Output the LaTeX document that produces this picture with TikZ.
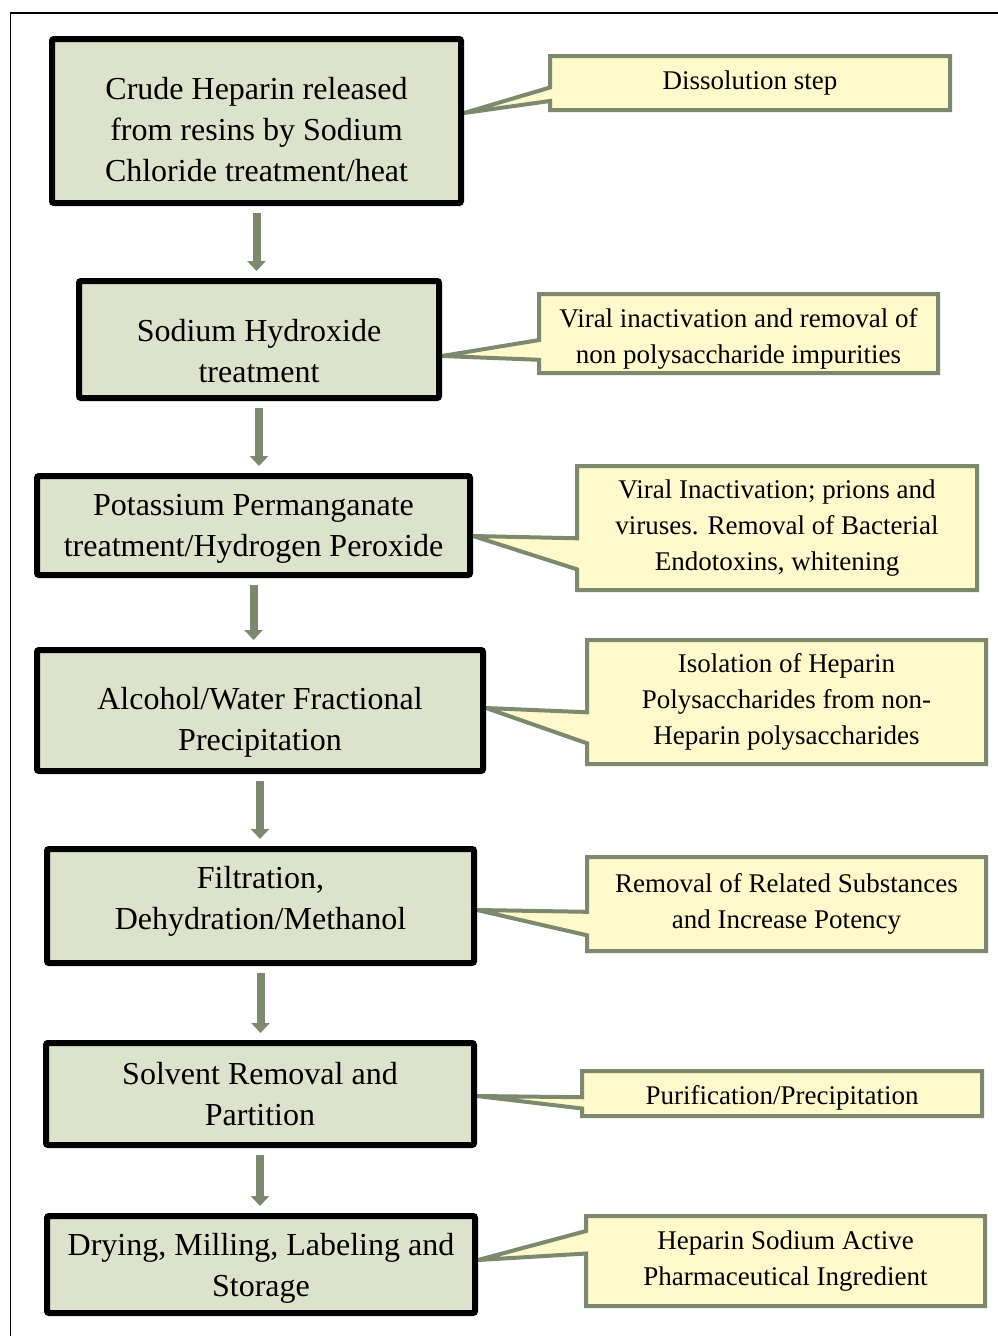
\documentclass[tikz,border=0pt]{standalone}
\usepackage{fontspec}
\setmainfont{Liberation Serif}
\usetikzlibrary{
    arrows.meta,
    backgrounds,
    calc
}
\definecolor{stagefill}{RGB}{221,226,202}
\definecolor{notefill}{RGB}{255,249,204}
\definecolor{noteline}{RGB}{125,137,109}
\tikzset {
    frame/.style = {draw, line width = 1.5pt},
    stage/.style = {
        draw, line width = 6pt, fill = stagefill,
        rounded corners = 2pt, align = center, inner sep = 0pt,
        font = \fontsize{32}{41}\selectfont
    },
    note/.style = {
        align = center, inner sep = 0pt, outer sep = 0pt,
        font = \fontsize{27}{36}\selectfont
    },
    note shape/.style = {draw = noteline, fill = notefill, line width = 4pt},
    flow/.style = {
        draw = noteline, line width = 8pt,
        -{Triangle[width = 18pt, length = 10pt]}
    }
}
% move the text of a node down / up by #1
\newcommand{\dropby}[1]{\rule{0pt}{\dimexpr 0.7em + #1 * 2\relax}}
\newcommand{\liftby}[1]{\rule[\dimexpr -0.22em - #1 * 2\relax]{0pt}{\dimexpr 0.22em + #1 * 2\relax}}
% callout: note node, tip, notch from / to (fractions of the height)
\newcommand{\notepath}[4]{
    \draw [note shape] (#1.north west) -- (#1.north east)
        -- (#1.south east) -- (#1.south west)
        -- ($(#1.north west)!#4!(#1.south west)$) -- (#2)
        -- ($(#1.north west)!#3!(#1.south west)$) -- cycle;
}
\begin{document}
\begin{tikzpicture}[x = 1pt, y = -1pt]
    \useasboundingbox (0, 0) rectangle (998, 1336);
    \draw [frame] (10.5, 13) rectangle (1020, 1360);
    % process steps
    \node [stage, minimum width = 409pt, minimum height = 164pt] (s1) at (256.5, 121)
        {\dropby{8pt}Crude Heparin released\\from resins by Sodium\\Chloride treatment/heat};
    \node [stage, minimum width = 360pt, minimum height = 117pt] (s2) at (259, 339.5)
        {\dropby{11pt}Sodium Hydroxide\\treatment};
    \node [stage, minimum width = 433pt, minimum height = 99pt] (s3) at (253.5, 525.5)
        {\dropby{3pt}Potassium Permanganate\\treatment/Hydrogen Peroxide};
    \node [stage, minimum width = 446pt, minimum height = 121pt] (s4) at (260, 710.5)
        {\dropby{12pt}Alcohol/Water Fractional\\Precipitation};
    \node [stage, minimum width = 427pt, minimum height = 114pt] (s5) at (260.5, 906)
        {Filtration,\\Dehydration/Methanol\liftby{5pt}};
    \node [stage, minimum width = 428pt, minimum height = 102pt] (s6) at (260, 1094)
        {Solvent Removal and\\Partition};
    \node [stage, minimum width = 428pt, minimum height = 97pt] (s7) at (261, 1264.5)
        {\dropby{4pt}Drying, Milling, Labeling and\\Storage};
    % notes
    \node [note, minimum width = 400pt, minimum height = 54pt] (n1) at (750, 83)
        {Dissolution step};
    \node [note, minimum width = 399pt, minimum height = 79pt] (n2) at (738.5, 333.5)
        {\dropby{5pt}Viral inactivation and removal of\\non polysaccharide impurities};
    \node [note, minimum width = 400pt, minimum height = 124pt] (n3) at (777, 528)
        {Viral Inactivation; prions and\\viruses. Removal of Bacterial\\Endotoxins, whitening};
    \node [note, minimum width = 399pt, minimum height = 124pt] (n4) at (786.5, 702)
        {Isolation of Heparin\\Polysaccharides from non-\\Heparin polysaccharides};
    \node [note, minimum width = 399pt, minimum height = 94pt] (n5) at (786.5, 904)
        {Removal of Related Substances\\and Increase Potency};
    \node [note, minimum width = 400pt, minimum height = 45pt] (n6) at (782, 1093.5)
        {\dropby{4pt}Purification/Precipitation};
    \node [note, minimum width = 399pt, minimum height = 90pt] (n7) at (785.5, 1261)
        {Heparin Sodium Active\\Pharmaceutical Ingredient};
    \coordinate (t1) at ([yshift = 8pt]s1.east);
    \coordinate (t2) at ([yshift = -16.5pt]s2.east);
    \coordinate (t3) at ([yshift = -10.5pt]s3.east);
    \coordinate (t4) at ([yshift = 2.5pt]s4.east);
    \coordinate (t5) at ([yshift = -4pt]s5.east);
    \coordinate (t6) at ([yshift = -2pt]s6.east);
    \coordinate (t7) at ([yshift = 4.5pt]s7.east);
    \begin{scope}[on background layer]
        \foreach \i/\a/\b in {1/.583/.833, 2/.583/.833, 3/.583/.833,
            4/.583/.833, 5/.583/.833, 6/.583/.833, 7/.167/.417} {
            \notepath{n\i}{t\i}{\a}{\b}
        }
    \end{scope}
    % flow
    \foreach \i [count = \j from 2] in {1, ..., 6}
        \draw [flow] ($(s\i.south) + (0, 7)$) -- ($(s\i.south |- s\j.north) + (0, -7)$);
\end{tikzpicture}
\end{document}
